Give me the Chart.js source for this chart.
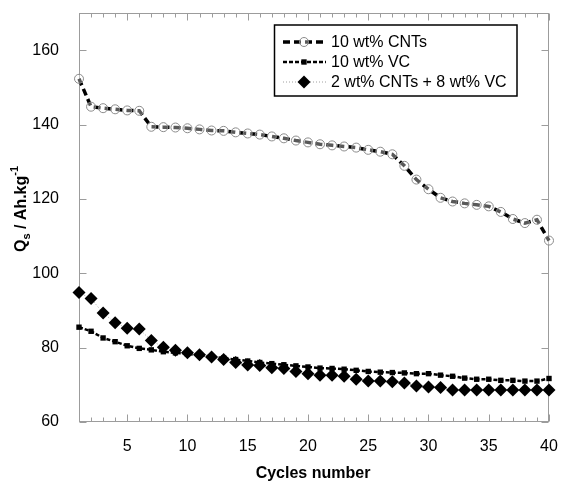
<!DOCTYPE html>
<html>
<head>
<meta charset="utf-8">
<title>Specific capacity vs cycles</title>
<script src="https://cdn.jsdelivr.net/npm/chart.js@4.4.1/dist/chart.umd.min.js"></script>
<style>
  body { margin: 0; background: #fff; }
  #chart { display: block; }
</style>
</head>
<body>
<canvas id="chart" width="562" height="484"></canvas>
<script>
// data
const cycles = [1, 2, 3, 4, 5, 6, 7, 8, 9, 10, 11, 12, 13, 14, 15, 16, 17, 18, 19, 20,
                21, 22, 23, 24, 25, 26, 27, 28, 29, 30, 31, 32, 33, 34, 35, 36, 37, 38, 39, 40];
const xTicks = [5, 10, 15, 20, 25, 30, 35, 40];
const yTicks = [60, 80, 100, 120, 140, 160];
const seriesNames = ['10 wt% CNTs', '10 wt% VC', '2 wt% CNTs + 8 wt% VC'];

const cntValues = [152.3, 144.8, 144.4, 144.1, 143.8, 143.7, 139.4, 139.3, 139.2, 139.0,
                   138.7, 138.4, 138.3, 137.9, 137.6, 137.3, 136.8, 136.3, 135.7, 135.2,
                   134.7, 134.4, 134.1, 133.8, 133.2, 132.7, 132.0, 128.9, 125.2, 122.6,
                   120.3, 119.3, 118.8, 118.4, 118.0, 116.5, 114.6, 113.5, 114.4, 108.8];
const vcValues = [85.5, 84.4, 82.6, 81.6, 80.5, 79.8, 79.4, 78.9, 78.6, 78.3,
                  78.0, 77.6, 77.2, 76.8, 76.4, 76.0, 75.7, 75.4, 75.1, 74.8,
                  74.5, 74.4, 74.2, 73.9, 73.6, 73.4, 73.3, 73.2, 73.0, 73.0,
                  72.6, 72.3, 71.8, 71.5, 71.5, 71.2, 71.2, 71.0, 71.0, 71.7];
const mixValues = [94.8, 93.2, 89.3, 86.7, 85.2, 85.0, 81.9, 80.1, 79.3, 78.6,
                   78.1, 77.5, 76.8, 76.0, 75.3, 75.2, 74.6, 74.4, 73.6, 73.0,
                   72.6, 72.6, 72.3, 71.5, 71.0, 71.0, 70.8, 70.5, 69.7, 69.4,
                   69.3, 68.6, 68.6, 68.6, 68.6, 68.6, 68.6, 68.6, 68.6, 68.6];

const FONT = "'Liberation Sans', Arial, sans-serif";
const FRAME_COLOR = '#9c9c9c';

function toPoints(values) {
    return cycles.map((c, i) => ({ x: c, y: values[i] }));
}

// frame round the plot with inward tick marks on all four sides
const framePlugin = {
    id: 'frame',
    beforeDatasetsDraw(chart) {
        const { ctx, chartArea: a, scales } = chart;
        const L = Math.round(a.left) + 0.5, R = Math.round(a.right) - 0.5;
        const T = Math.round(a.top) + 0.5, B = Math.round(a.bottom) - 0.5;
        ctx.save();
        ctx.strokeStyle = FRAME_COLOR;
        ctx.lineWidth = 1;
        ctx.strokeRect(L, T, R - L, B - T);
        ctx.beginPath();
        cycles.forEach(c => {
            const x = Math.round(scales.x.getPixelForValue(c)) + 0.5;
            const len = xTicks.includes(c) ? 7 : 4;
            ctx.moveTo(x, B); ctx.lineTo(x, B - len);
            ctx.moveTo(x, T); ctx.lineTo(x, T + len);
        });
        yTicks.forEach(v => {
            const y = Math.round(scales.y.getPixelForValue(v)) + 0.5;
            ctx.moveTo(L, y); ctx.lineTo(L + 7, y);
            ctx.moveTo(R, y); ctx.lineTo(R - 7, y);
        });
        ctx.stroke();
        ctx.restore();
    }
};

// marker shapes used in the legend
function drawMarker(ctx, ds, x, y) {
    const r = ds.pointRadius;
    ctx.save();
    ctx.setLineDash([]);
    ctx.fillStyle = ds.pointBackgroundColor;
    ctx.strokeStyle = ds.pointBorderColor;
    ctx.lineWidth = ds.pointBorderWidth;
    ctx.beginPath();
    if (ds.pointStyle === 'circle') {
        ctx.arc(x, y, r, 0, Math.PI * 2);
    } else if (ds.pointStyle === 'rect') {
        const s = r * Math.SQRT1_2;
        ctx.rect(x - s, y - s, 2 * s, 2 * s);
    } else {
        ctx.moveTo(x - r, y); ctx.lineTo(x, y - r); ctx.lineTo(x + r, y); ctx.lineTo(x, y + r);
        ctx.closePath();
    }
    ctx.fill();
    if (ds.pointBorderWidth > 0) ctx.stroke();
    ctx.restore();
}

// boxed legend in the upper right
const legendPlugin = {
    id: 'boxLegend',
    afterDraw(chart) {
        const ctx = chart.ctx;
        ctx.save();
        ctx.strokeStyle = '#000';
        ctx.lineWidth = 1.5;
        ctx.strokeRect(274.5, 25, 242.5, 71);
        ctx.font = '16px ' + FONT;
        ctx.textBaseline = 'middle';
        ctx.fillStyle = '#000';
        chart.data.datasets.forEach((ds, i) => {
            const y = 42 + i * 20;
            ctx.save();
            ctx.strokeStyle = ds.borderColor;
            ctx.lineWidth = ds.borderWidth;
            ctx.setLineDash(ds.borderDash);
            ctx.beginPath();
            ctx.moveTo(283, y); ctx.lineTo(326, y);
            ctx.stroke();
            ctx.restore();
            drawMarker(ctx, ds, 304, y);
            ctx.fillText(ds.label, 331, y + 1);
        });
        ctx.restore();
    }
};

// axis titles, with subscript and superscript on the y title
const titlePlugin = {
    id: 'axisTitles',
    afterDraw(chart) {
        const ctx = chart.ctx;
        const big = 'bold 16px ' + FONT, small = 'bold 11px ' + FONT;
        ctx.save();
        ctx.fillStyle = '#000';
        ctx.textAlign = 'center';
        ctx.textBaseline = 'middle';
        ctx.font = big;
        ctx.fillText('Cycles number', 313, 474);

        const parts = [
            { t: 'Q', f: big, dy: 0 },
            { t: 's', f: small, dy: 5 },
            { t: ' / Ah.kg', f: big, dy: 0 },
            { t: '-1', f: small, dy: -7 }
        ];
        let total = 0;
        parts.forEach(p => { ctx.font = p.f; p.w = ctx.measureText(p.t).width; total += p.w; });
        ctx.translate(22, 209);
        ctx.rotate(-Math.PI / 2);
        ctx.textAlign = 'left';
        let x = -total / 2;
        parts.forEach(p => {
            ctx.font = p.f;
            ctx.fillText(p.t, x, p.dy);
            x += p.w;
        });
        ctx.restore();
    }
};

function initChart() {
    const ctx = document.getElementById('chart');
    new Chart(ctx, {
        type: 'line',
        data: {
            datasets: [
                {
                    label: seriesNames[0],
                    data: toPoints(cntValues),
                    borderColor: '#000',
                    borderWidth: 3.5,
                    borderDash: [7, 4],
                    pointStyle: 'circle',
                    pointRadius: 4.5,
                    pointBackgroundColor: 'rgba(255,255,255,0.35)',
                    pointBorderColor: '#8a8a8a',
                    pointBorderWidth: 1,
                    tension: 0,
                    clip: false
                },
                {
                    label: seriesNames[1],
                    data: toPoints(vcValues),
                    borderColor: '#000',
                    borderWidth: 2.5,
                    borderDash: [4, 2],
                    pointStyle: 'rect',
                    pointRadius: 3.8,
                    pointBackgroundColor: '#000',
                    pointBorderColor: '#000',
                    pointBorderWidth: 0,
                    tension: 0,
                    clip: false
                },
                {
                    label: seriesNames[2],
                    data: toPoints(mixValues),
                    borderColor: '#a0a0a0',
                    borderWidth: 1,
                    borderDash: [1, 2],
                    pointStyle: 'rectRot',
                    pointRadius: 6.5,
                    pointBackgroundColor: '#000',
                    pointBorderColor: '#000',
                    pointBorderWidth: 0,
                    tension: 0,
                    clip: false
                }
            ]
        },
        options: {
            responsive: false,
            animation: false,
            layout: { padding: { left: 0, right: 13, top: 13, bottom: 0 } },
            plugins: {
                legend: { display: false },
                tooltip: { enabled: false }
            },
            scales: {
                x: {
                    type: 'linear',
                    min: 1,
                    max: 40,
                    grid: { display: false },
                    border: { display: false },
                    afterBuildTicks: s => { s.ticks = xTicks.map(v => ({ value: v })); },
                    afterFit: s => { s.height = 62; s.paddingLeft = 0; s.paddingRight = 0; },
                    ticks: {
                        color: '#000',
                        font: { family: FONT, size: 16 },
                        padding: 7,
                        maxRotation: 0,
                        autoSkip: false
                    }
                },
                y: {
                    min: 60,
                    max: 170,
                    grid: { display: false },
                    border: { display: false },
                    afterBuildTicks: s => { s.ticks = yTicks.map(v => ({ value: v })); },
                    afterFit: s => { s.width = 79; s.paddingTop = 0; s.paddingBottom = 0; },
                    ticks: {
                        color: '#000',
                        font: { family: FONT, size: 16 },
                        padding: 12
                    }
                }
            }
        },
        plugins: [framePlugin, legendPlugin, titlePlugin]
    });
}

document.addEventListener('DOMContentLoaded', initChart);
</script>
</body>
</html>
